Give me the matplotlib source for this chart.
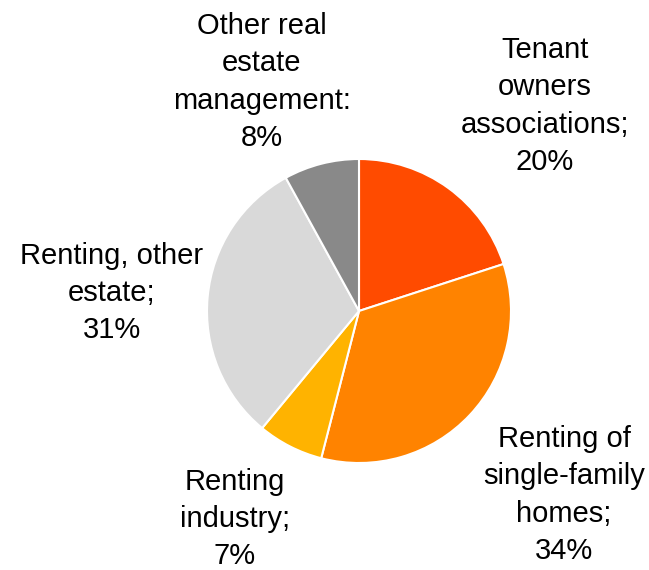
import matplotlib.pyplot as plt

# Data
categories = [
    "Tenant\nowners\nassociations;",
    "Renting of\nsingle-family\nhomes;",
    "Renting\nindustry;",
    "Renting, other\nestate;",
    "Other real\nestate\nmanagement:",
]
shares = [20, 34, 7, 31, 8]
colors = ["#FF4B00", "#FF8300", "#FFB300", "#D9D9D9", "#898989"]

# label centres in pixels (x from left, y from top)
label_px = [(545, 106), (564, 495), (235, 519), (112, 293), (262, 82)]

W, H = 649, 570
cx, cy, r = 359, 311, 152

fig = plt.figure(figsize=(W / 100, H / 100), dpi=100)
ax = fig.add_axes([0, 0, 1, 1])

ax.pie(shares, colors=colors, startangle=90, counterclock=False,
       radius=1, wedgeprops=dict(edgecolor="white", linewidth=1.5))

ax.set_xlim((0 - cx) / r, (W - cx) / r)
ax.set_ylim((cy - H) / r, cy / r)
ax.set_aspect("equal")
ax.axis("off")

for cat, val, (px, py) in zip(categories, shares, label_px):
    ax.text((px - cx) / r, (cy - py) / r, f"{cat}\n{val}%",
            ha="center", va="center", fontsize=21, linespacing=1.43,
            family=["Liberation Sans", "DejaVu Sans"], color="black")

fig.savefig("out.png", dpi=100)
